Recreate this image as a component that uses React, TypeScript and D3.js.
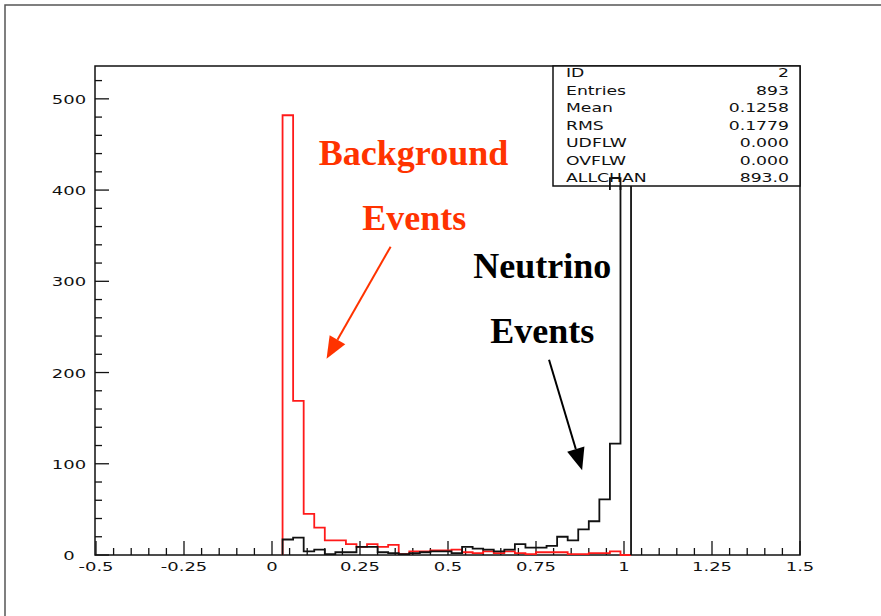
import React, { useEffect, useRef } from "react";
import * as d3 from "d3";

// histogram binning (from 0.03 to 1.02, 33 bins)
const binLow = 0.03;
const binWidth = 0.03;

// background events (red)
const backgroundCounts = [
  482, 169, 45, 30, 16, 16, 12, 9, 12, 9, 11, 1, 4, 4, 5, 5, 6, 3, 2, 4, 2, 4,
  2, 1, 3, 3, 3, 1, 1, 2, 2, 4, 0,
];

// neutrino events (black)
const neutrinoCounts = [
  17, 19, 4, 6, 1, 3, 3, 9, 9, 3, 2, 1, 2, 3, 4, 4, 2, 9, 7, 6, 4, 6, 12, 8, 8,
  10, 20, 16, 28, 37, 61, 122, 415,
];

const xMajorTicks = [-0.5, -0.25, 0, 0.25, 0.5, 0.75, 1, 1.25, 1.5];
const xTickLabels = ["-0.5", "-0.25", "0", "0.25", "0.5", "0.75", "1", "1.25", "1.5"];
const yMajorTicks = [0, 100, 200, 300, 400, 500];

const statLabels = ["ID", "Entries", "Mean", "RMS", "UDFLW", "OVFLW", "ALLCHAN"];
const statValues = ["2", "893", "0.1258", "0.1779", "0.000", "0.000", "893.0"];

const annoRed = "#ff3300";

export default function App() {
  const ref = useRef<SVGSVGElement>(null);

  useEffect(() => {
    const svg = d3.select(ref.current);
    svg.selectAll("*").remove();

    const left = 95,
      right = 800,
      top = 66,
      bottom = 555;

    const x = d3.scaleLinear().domain([-0.5, 1.5]).range([96, right]);
    const y = d3.scaleLinear().domain([0, 536]).range([bottom, top]);

    // outer page frame
    svg
      .append("path")
      .attr("d", "M5,616 L5,5 L881,5")
      .attr("fill", "none")
      .attr("stroke", "#555")
      .attr("stroke-width", 1.5);

    // plot frame
    svg
      .append("rect")
      .attr("x", left)
      .attr("y", top)
      .attr("width", right - left)
      .attr("height", bottom - top)
      .attr("fill", "none")
      .attr("stroke", "#111")
      .attr("stroke-width", 1.5);

    const tickFont = "DejaVu Sans, sans-serif";

    // x ticks
    const xMinor = d3.range(-0.5, 1.5001, 0.05);
    svg
      .append("g")
      .selectAll("line")
      .data(xMinor)
      .join("line")
      .attr("x1", (d) => x(d))
      .attr("x2", (d) => x(d))
      .attr("y1", bottom)
      .attr("y2", (d) =>
        xMajorTicks.some((m) => Math.abs(m - d) < 1e-6) ? bottom - 14 : bottom - 7
      )
      .attr("stroke", "#111")
      .attr("stroke-width", 1.3);

    svg
      .append("g")
      .selectAll("text")
      .data(xMajorTicks)
      .join("text")
      .attr("transform", (d) => `translate(${x(d)},${bottom + 16}) scale(1.5,1)`)
      .attr("text-anchor", "middle")
      .attr("font-family", tickFont)
      .attr("font-size", 12)
      .attr("fill", "#111")
      .text((d, i) => xTickLabels[i]);

    // y ticks
    const yMinor = d3.range(0, 521, 20);
    svg
      .append("g")
      .selectAll("line")
      .data(yMinor)
      .join("line")
      .attr("x1", left)
      .attr("x2", (d) => (d % 100 === 0 ? left + 14 : left + 7))
      .attr("y1", (d) => y(d))
      .attr("y2", (d) => y(d))
      .attr("stroke", "#111")
      .attr("stroke-width", 1.3);

    svg
      .append("g")
      .selectAll("text")
      .data(yMajorTicks)
      .join("text")
      .attr("transform", (d) => `translate(69,${y(d) + 5}) scale(1.5,1)`)
      .attr("text-anchor", "middle")
      .attr("font-family", tickFont)
      .attr("font-size", 12)
      .attr("fill", "#111")
      .text((d) => String(d));

    // histograms as step outlines
    const histPoints = (counts: number[]) => {
      const pts: [number, number][] = [[binLow, 0]];
      counts.forEach((c, i) => {
        pts.push([binLow + i * binWidth, c]);
        pts.push([binLow + (i + 1) * binWidth, c]);
      });
      pts.push([binLow + counts.length * binWidth, 0]);
      return pts;
    };
    const line = d3
      .line<[number, number]>()
      .x((d) => x(d[0]))
      .y((d) => y(d[1]));

    svg
      .append("path")
      .attr("d", line(histPoints(backgroundCounts)))
      .attr("fill", "none")
      .attr("stroke", "#ff1a1a")
      .attr("stroke-width", 1.8);

    svg
      .append("path")
      .attr("d", line(histPoints(neutrinoCounts)))
      .attr("fill", "none")
      .attr("stroke", "#111")
      .attr("stroke-width", 1.8);

    // stats box
    const boxL = 553,
      boxB = 186;
    svg
      .append("rect")
      .attr("x", boxL)
      .attr("y", top)
      .attr("width", right - boxL)
      .attr("height", boxB - top)
      .attr("fill", "white")
      .attr("stroke", "#111")
      .attr("stroke-width", 1.5);
    // bar top poking into the box
    const lastEdge = binLow + 31 * binWidth;
    svg
      .append("path")
      .attr(
        "d",
        line([
          [lastEdge, 400],
          [lastEdge, 413],
          [lastEdge + binWidth, 413],
          [lastEdge + binWidth, 400],
        ])
      )
      .attr("fill", "none")
      .attr("stroke", "#111")
      .attr("stroke-width", 1.8);

    const statRows = svg
      .append("g")
      .attr("font-family", tickFont)
      .attr("font-size", 11.5)
      .attr("fill", "#111");
    statLabels.forEach((lab, i) => {
      const yy = 77 + i * 17.5;
      statRows
        .append("text")
        .attr("transform", `translate(566,${yy}) scale(1.5,1)`)
        .text(lab);
      statRows
        .append("text")
        .attr("transform", `translate(789,${yy}) scale(1.5,1)`)
        .attr("text-anchor", "end")
        .text(statValues[i]);
    });

    // annotations
    const serif = "Liberation Serif, Times New Roman, serif";
    const label = (tx: number, ty: number, txt: string, color: string) =>
      svg
        .append("text")
        .attr("x", x(tx))
        .attr("y", y(ty))
        .attr("text-anchor", "middle")
        .attr("font-family", serif)
        .attr("font-weight", "bold")
        .attr("font-size", 36)
        .attr("fill", color)
        .text(txt);

    label(0.402, 427, "Background", annoRed);
    label(0.404, 356, "Events", annoRed);
    label(0.768, 304, "Neutrino", "#000");
    label(0.768, 232, "Events", "#000");

    const arrow = (x0: number, y0: number, x1: number, y1: number, color: string) => {
      const sx = x(x0),
        sy = y(y0),
        ex = x(x1),
        ey = y(y1);
      const ang = Math.atan2(ey - sy, ex - sx);
      const hl = 22,
        hw = 9;
      const bx = ex - hl * Math.cos(ang),
        by = ey - hl * Math.sin(ang);
      svg
        .append("line")
        .attr("x1", sx)
        .attr("y1", sy)
        .attr("x2", bx)
        .attr("y2", by)
        .attr("stroke", color)
        .attr("stroke-width", 2);
      svg
        .append("path")
        .attr(
          "d",
          `M${ex},${ey} L${bx + hw * Math.sin(ang)},${by - hw * Math.cos(ang)} L${
            bx - hw * Math.sin(ang)
          },${by + hw * Math.cos(ang)} Z`
        )
        .attr("fill", color);
    };

    arrow(0.337, 338, 0.155, 215, annoRed);
    arrow(0.787, 214, 0.881, 93, "#000");
  }, []);

  return (
    <svg
      ref={ref}
      width={881}
      height={616}
      style={{ position: "absolute", left: 0, top: 0, background: "white" }}
    />
  );
}
